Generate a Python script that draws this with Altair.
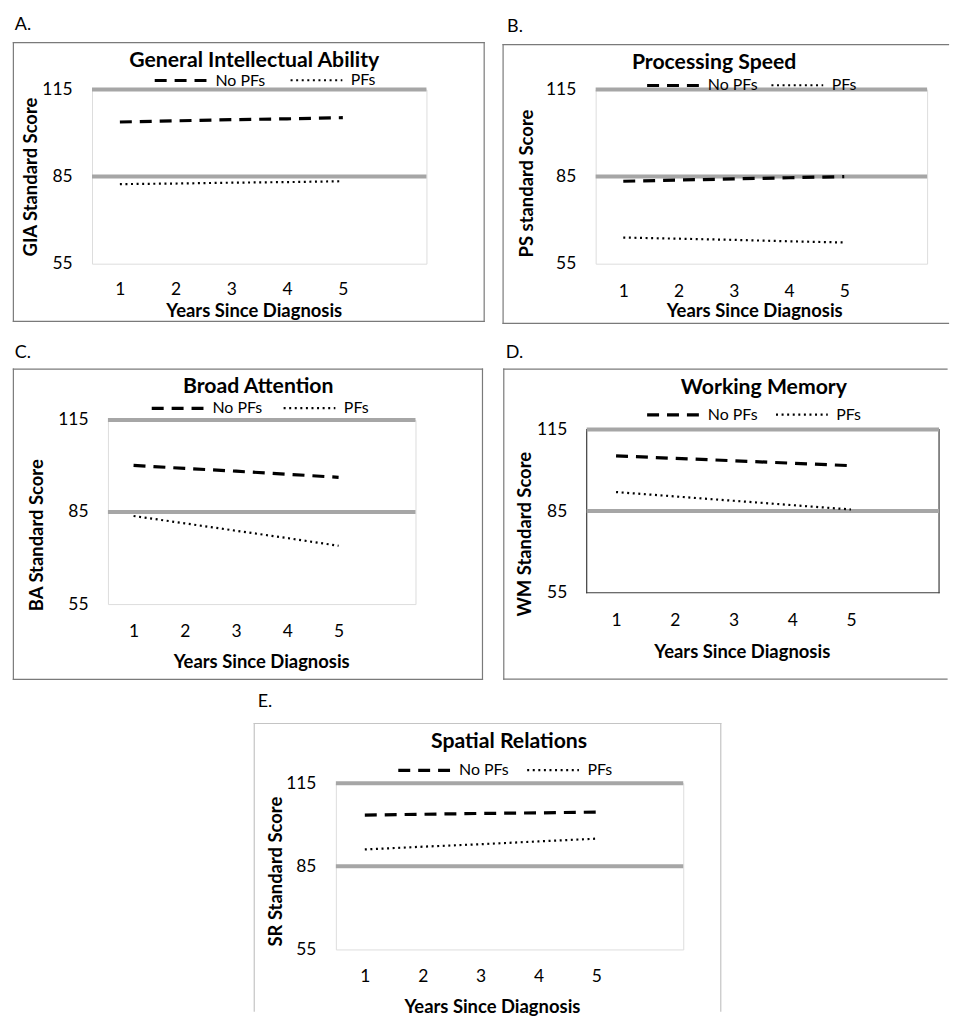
import altair as alt
import pandas as pd

# ---------------- data ----------------
years = [1, 2, 3, 4, 5]
series_names = ["No PFs", "PFs"]
ref_levels = [85, 115]
y_ticks = [55, 85, 115]

letters = ["A.", "B.", "C.", "D.", "E."]
titles = ["General Intellectual Ability", "Processing Speed", "Broad Attention",
          "Working Memory", "Spatial Relations"]
y_titles = ["GIA Standard Score", "PS standard Score", "BA Standard Score",
            "WM Standard Score", "SR Standard Score"]
x_title = "Years Since Diagnosis"

gia_no_pfs = [103.8, 104.2, 104.6, 104.9, 105.3]
gia_pfs = [82.4, 82.6, 82.9, 83.1, 83.4]
ps_no_pfs = [83.4, 83.8, 84.2, 84.6, 85.0]
ps_pfs = [64.0, 63.6, 63.2, 62.7, 62.3]
ba_no_pfs = [100.2, 99.2, 98.3, 97.3, 96.3]
ba_pfs = [83.7, 81.3, 78.9, 76.5, 74.0]
wm_no_pfs = [105.3, 104.4, 103.5, 102.6, 101.7]
wm_pfs = [92.0, 90.4, 88.8, 87.2, 85.6]
sr_no_pfs = [103.5, 103.8, 104.1, 104.3, 104.6]
sr_pfs = [91.1, 92.1, 93.0, 94.0, 95.0]

panel_values = [(gia_no_pfs, gia_pfs), (ps_no_pfs, ps_pfs), (ba_no_pfs, ba_pfs),
                (wm_no_pfs, wm_pfs), (sr_no_pfs, sr_pfs)]

# ---------------- layout / style (pixels) ----------------
# fr = (left, right beyond plot, top, bottom beyond plot); edges = frame sides drawn
# lg = (legend x, legend centre y, column padding); gap = letter baseline above frame
# ext = extra empty view height above the plot box (to offset a panel vertically)
layouts = [
    dict(w=336, h=175, fr=(-79, 58, -47, 58), fc="#7a7a7a", edges="tlbr",
         tt=(163, -22.3), lg=(61, -11, 21), xt=(162.5, 53), yt=(-56, 87.5),
         lp=17, gap=13, ldx=1.5, ext=0),
    dict(w=333, h=175, fr=(-93, 21.5, -45, 60), fc="#7a7a7a", edges="tlb",
         tt=(119, -21), lg=(49.7, -6, 9.4), xt=(159.3, 53.5), yt=(-63.3, 94),
         lp=18.5, gap=13, ldx=4, ext=0),
    dict(w=309, h=185, fr=(-95, 67.3, -51, 75.7), fc="#7a7a7a", edges="tlbr",
         tt=(151, -27), lg=(42, -13.7, 17), xt=(154, 63.3), yt=(-65.3, 115.3),
         lp=18.5, gap=11, ldx=1.5, ext=0),
    dict(w=354, h=164, fr=(-83.3, 8, -60.6, 86.7), fc="#7a7a7a", edges="tlb",
         tt=(178, -35.6), lg=(58.7, -16.6, 14), xt=(155.8, 65), yt=(-56.3, 104.7),
         lp=18.5, gap=11, ldx=2, ext=9.6),
    dict(w=349, h=167, fr=(-82, 37.7, -60, 62), fc="#c4c4c4", edges="tlr",
         tt=(174, -35.7), lg=(60.7, -15, 14), xt=(156.8, 63.3), yt=(-55, 88.3),
         lp=18.5, gap=16.7, ldx=3.5, ext=0),
]

FONT = "Lato"
SYM_LEN = 52
ENTRY_H = SYM_LEN  # legend row height
BOX = "#3c3c3c"


def panel(i):
    L = layouts[i]
    w, h, e = L["w"], L["h"], L["ext"]
    vh = h + e
    no_pfs, pfs = panel_values[i]
    df = pd.DataFrame({
        "year": years * 2,
        "score": no_pfs + pfs,
        "series": [series_names[0]] * len(years) + [series_names[1]] * len(years),
    })
    one = pd.DataFrame({"k": [0]})
    ref_df = pd.DataFrame({"level": ref_levels})

    x_scale = alt.Scale(domain=[0.5, 6.5], nice=False, zero=False)
    y_top = 115 + e * 60.0 / h
    y_scale = alt.Scale(domain=[55, y_top], nice=False, zero=False)

    x_axis = alt.Axis(values=years, title=x_title, grid=False, domain=False, ticks=False,
                      labelPadding=L["lp"], labelFont=FONT, labelFontSize=17.5,
                      labelColor="black", labelAngle=0, format="d", titleFont=FONT,
                      titleFontSize=18.5, titleFontWeight="bold", titleColor="black",
                      titleX=L["xt"][0], titleY=L["xt"][1], titleBaseline="alphabetic",
                      titleAlign="center")
    y_axis = alt.Axis(values=y_ticks, title=y_titles[i], grid=False, domain=False, ticks=False,
                      labelPadding=20, labelFont=FONT, labelFontSize=17.5, labelColor="black",
                      format="d", titleFont=FONT, titleFontSize=18.5, titleFontWeight="bold",
                      titleColor="black", titleX=L["yt"][0], titleY=L["yt"][1] + e,
                      titleBaseline="alphabetic", titleAlign="center", titleAngle=270)

    lx, lcy, cp = L["lg"]
    legend = alt.Legend(orient="none", legendX=lx, legendY=lcy + e - ENTRY_H / 2,
                        direction="horizontal", title=None, symbolType="stroke",
                        symbolSize=SYM_LEN * SYM_LEN, labelFont=FONT, labelFontSize=16,
                        labelColor="black", labelOffset=7, columnPadding=cp, padding=0)

    # frame around the panel (decoration, pixel positions)
    x1, xr, y1, yb = L["fr"]
    y1 = y1 + e
    x2, y2 = w + xr, vh + yb
    rule = alt.Chart(one).mark_rule(color=L["fc"], strokeWidth=1.2, strokeCap="square")
    deco = []
    if "t" in L["edges"]:
        deco.append(rule.encode(x=alt.value(x1), x2=alt.value(x2), y=alt.value(y1)))
    if "b" in L["edges"]:
        deco.append(rule.encode(x=alt.value(x1), x2=alt.value(x2), y=alt.value(y2)))
    if "l" in L["edges"]:
        deco.append(rule.encode(x=alt.value(x1), y=alt.value(y1), y2=alt.value(y2)))
    if "r" in L["edges"]:
        deco.append(rule.encode(x=alt.value(x2), y=alt.value(y1), y2=alt.value(y2)))
    if e > 0:
        box = alt.Chart(one).mark_rule(color=BOX, strokeWidth=1.2, strokeCap="square")
        deco += [
            box.encode(x=alt.value(0), y=alt.value(e), y2=alt.value(vh)),
            box.encode(x=alt.value(w), y=alt.value(e), y2=alt.value(vh)),
            box.encode(x=alt.value(0), x2=alt.value(w), y=alt.value(vh)),
        ]

    rules = alt.Chart(ref_df).mark_rule(color="#a6a6a6", strokeWidth=4).encode(
        y=alt.Y("level:Q", scale=y_scale, axis=y_axis))

    lines = alt.Chart(df).mark_line(color="black").encode(
        x=alt.X("year:Q", scale=x_scale, axis=x_axis),
        y=alt.Y("score:Q", scale=y_scale, axis=y_axis),
        strokeDash=alt.StrokeDash("series:N",
                                  scale=alt.Scale(domain=series_names, range=[[12, 8], [2, 3.6]]),
                                  legend=legend),
        strokeWidth=alt.StrokeWidth("series:N",
                                    scale=alt.Scale(type="ordinal", domain=series_names,
                                                    range=[3.2, 2.2]),
                                    legend=legend),
    )

    ttl = alt.Chart(one).mark_text(text=titles[i], font=FONT, fontSize=21.3, fontWeight="bold",
                                   color="black", align="center", baseline="alphabetic").encode(
        x=alt.value(L["tt"][0]), y=alt.value(L["tt"][1] + e))

    letter = alt.Chart(one).mark_text(text=letters[i], font=FONT, fontSize=18, color="black",
                                      align="left", baseline="alphabetic").encode(
        x=alt.value(x1 + L["ldx"]), y=alt.value(y1 - L["gap"]))

    props = dict(width=w, height=vh)
    if e > 0:
        props["view"] = alt.ViewBackground(strokeOpacity=0)
    return alt.layer(*deco, rules, lines, ttl, letter).properties(**props)


def spacer(wd):
    one = pd.DataFrame({"k": [0]})
    return alt.Chart(one).mark_rule(strokeOpacity=0).encode(
        x=alt.value(0), y=alt.value(0), y2=alt.value(1)).properties(
        width=wd, height=1, view=alt.ViewBackground(strokeOpacity=0))


def indep(c):
    return c.resolve_scale(strokeDash="independent", strokeWidth="independent").resolve_legend(
        strokeDash="independent", strokeWidth="independent")


pA, pB, pC, pD, pE = [panel(i) for i in range(5)]
row1 = indep(alt.concat(spacer(4), pA, pB, columns=3, align="none", spacing=15))
row2 = indep(alt.concat(spacer(1), pC, pD, columns=3, align="none", spacing=18))
row3 = indep(alt.concat(spacer(251), pE, columns=2, align="none", spacing=10))
inner = indep(alt.concat(row1, row2, columns=1, align="none", spacing=18))
chart = indep(alt.concat(inner, row3, columns=1, align="none", spacing=10)).properties(
    padding={"left": -15.6, "top": 4.5, "right": 0, "bottom": 0},
    background="white",
).configure_view(stroke=BOX, strokeWidth=1.2).configure(font=FONT)

chart.save("out.html", embed_options={"renderer": "svg", "actions": False})
